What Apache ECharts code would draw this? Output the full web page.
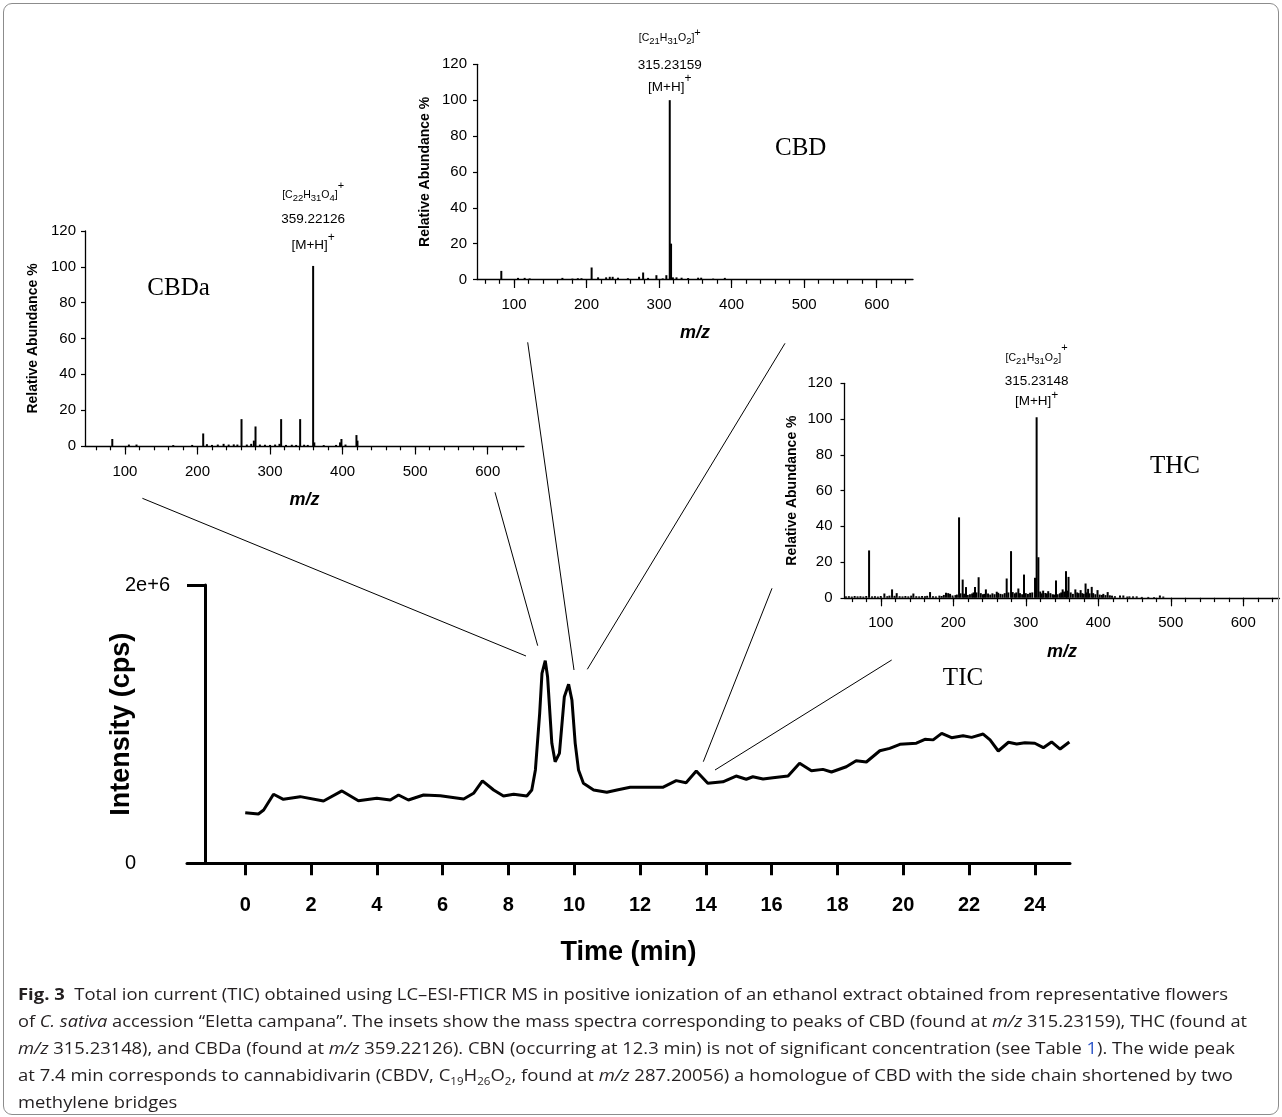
<!DOCTYPE html>
<html>
<head>
<meta charset="utf-8">
<script src="https://cdn.jsdelivr.net/npm/echarts@6/dist/echarts.min.js"></script>
<style>
    html, body {
        margin: 0;
        padding: 0;
        background: #fff;
    }
    #chart {
        position: absolute;
        left: 0;
        top: 0;
        width: 1282px;
        height: 1117px;
    }
    #frame {
        position: absolute;
        left: 3px;
        top: 3px;
        width: 1276px;
        height: 1112px;
        box-sizing: border-box;
        border: 1.5px solid #8c8c8c;
        border-radius: 9px;
        pointer-events: none;
    }
    #caption {
        position: absolute;
        left: 18px;
        top: 981px;
        font-family: "Open Sans";
        font-size: 16px;
        line-height: 27px;
        color: #231f20;
    }
    #caption .ln {
        display: block;
        white-space: nowrap;
        transform-origin: 0 0;
        width: max-content;
    }
    #caption sub {
        font-size: 10px;
        line-height: 0;
    }
    #caption .ref {
        color: #2f56c8;
    }
</style>
</head>
<body>
<div id="chart"></div>
<div id="frame"></div>
<div id="caption">
    <span class="ln" data-w="1210"><b>Fig. 3</b>&nbsp; Total ion current (TIC) obtained using LC–ESI-FTICR MS in positive ionization of an ethanol extract obtained from representative flowers</span>
    <span class="ln" data-w="1229">of <i>C. sativa</i> accession “Eletta campana”. The insets show the mass spectra corresponding to peaks of CBD (found at <i>m/z</i> 315.23159), THC (found at</span>
    <span class="ln" data-w="1217"><i>m/z</i> 315.23148), and CBDa (found at <i>m/z</i> 359.22126). CBN (occurring at 12.3 min) is not of significant concentration (see Table <span class="ref">1</span>). The wide peak</span>
    <span class="ln" data-w="1215">at 7.4 min corresponds to cannabidivarin (CBDV, C<sub>19</sub>H<sub>26</sub>O<sub>2</sub>, found at <i>m/z</i> 287.20056) a homologue of CBD with the side chain shortened by two</span>
    <span class="ln">methylene bridges</span>
</div>
<script>
// ---------------- 数据 ----------------
// TIC：保留时间 (min) 与强度 (cps)
const ticTime = [0, 0.4, 0.56, 0.86, 1.16, 1.67, 2.38, 2.94, 3.44, 4.0, 4.41, 4.66, 4.96, 5.42, 5.93, 6.64, 6.94, 7.21, 7.55, 7.85,
    8.16, 8.56, 8.71, 8.82, 8.95, 9.02, 9.12, 9.19, 9.32, 9.42, 9.55, 9.70, 9.83, 9.93, 10.03, 10.13, 10.28, 10.59, 10.99, 11.3,
    11.7, 12.69, 13.1, 13.4, 13.71, 14.06, 14.52, 14.92, 15.23, 15.43, 15.74, 16.04, 16.5, 16.85, 17.21, 17.56, 17.82, 18.27, 18.57, 18.88,
    19.29, 19.59, 19.9, 20.4, 20.66, 20.91, 21.17, 21.47, 21.82, 22.08, 22.43, 22.64, 22.89, 23.2, 23.45, 23.7, 24.0, 24.26, 24.51, 24.77, 25.05];
const ticIntensity = [364000, 354000, 383000, 496000, 460000, 479000, 448000, 520000, 450000, 467000, 455000, 491000, 455000, 491000, 486000, 462000, 503000, 592000, 527000, 484000,
    496000, 484000, 527000, 671000, 1078000, 1365000, 1456000, 1341000, 862000, 730000, 790000, 1197000, 1286000, 1174000, 862000, 671000, 575000, 527000, 510000, 527000,
    546000, 546000, 594000, 579000, 663000, 575000, 586000, 627000, 604000, 622000, 606000, 615000, 627000, 719000, 665000, 675000, 656000, 694000, 737000, 728000,
    809000, 826000, 855000, 863000, 891000, 887000, 934000, 903000, 917000, 905000, 929000, 887000, 807000, 870000, 858000, 867000, 863000, 831000, 872000, 821000, 872000];

// 质谱：m/z 与相对丰度 %
const cbdaMz = [82.6, 105.5, 116, 166.6, 192.7, 207.9, 213, 220, 228, 236, 243, 250, 255, 260.7, 268, 274, 277.7, 280, 286, 293,
    300, 307, 313, 315.3, 322, 330, 336, 341.5, 347, 352, 359.4, 361, 374, 391, 396.5, 398.4, 404, 419.1, 420.5];
const cbdaAbund = [3.9, 0.8, 0.8, 0.5, 0.6, 7.0, 1.0, 0.6, 0.8, 1.2, 0.8, 0.9, 0.8, 15, 0.8, 1.2, 3.0, 10.9, 0.8, 0.7,
    0.6, 0.8, 1.2, 15, 0.6, 0.7, 0.6, 15, 0.7, 0.6, 100.5, 2.0, 0.5, 0.6, 2.0, 3.9, 0.8, 6.1, 3.0];

const cbdMz = [82.5, 105.5, 114.7, 121.6, 166.7, 180.5, 188, 193, 207, 215.9, 227, 232, 236, 243.4, 257, 272.4, 278, 284.8, 296.3, 305,
    310, 314.7, 316.5, 319, 324, 331, 340, 353.8, 358, 374.5, 390.6];
const cbdAbund = [4.8, 0.9, 0.9, 0.6, 0.9, 0.5, 0.7, 0.7, 6.7, 1.2, 1.2, 1.5, 1.5, 1.0, 0.7, 1.5, 3.9, 0.9, 2.4, 0.6,
    2.4, 100, 20, 1.2, 1.2, 1.0, 0.8, 1.0, 1.0, 0.5, 0.9];

const thcMz = [52, 56, 60, 64, 68, 72, 76, 80, 83.9, 88, 92, 96, 100, 105, 109, 112, 115.6, 119, 122, 126,
    130, 134, 138, 142, 145, 149, 153, 157, 161, 164, 168, 172, 176, 180.9, 184, 187, 190, 193, 195.6, 199,
    203, 205, 208, 210, 213, 215, 217.6, 220, 223, 226, 228, 230, 232, 235, 238, 241, 243, 245, 248, 251,
    254, 257, 260, 262, 265, 268, 271, 273.7, 276, 279.7, 282, 285, 287, 289.8, 292, 295, 297.6, 300, 303, 306,
    309, 312.8, 315, 317.4, 320, 322, 324, 327, 329, 331, 334, 337, 339, 341.7, 344, 347, 349, 350.9, 353, 355.5,
    357, 359, 362, 365, 368.4, 371, 373, 375.7, 378, 380, 382.5, 384, 386, 388, 391, 393, 396, 399, 402, 405,
    407, 410, 413, 416, 419, 423, 430, 434.6, 440, 443, 448, 453, 460, 469, 477, 485, 489.7];
const thcAbund = [0.8, 0.9, 0.7, 1.0, 0.8, 0.9, 0.7, 1.0, 26.5, 0.8, 0.9, 0.7, 1.0, 2.4, 0.9, 1.2, 4.7, 1.1, 2.6, 0.9,
    0.8, 1.0, 0.8, 1.2, 2.4, 0.9, 0.8, 1.0, 0.9, 1.1, 3.2, 0.9, 0.8, 1.2, 1.0, 1.6, 2.8, 2.6, 2.2, 1.3,
    1.5, 1.8, 45, 2.5, 10.2, 2.3, 6.0, 1.6, 2.0, 2.4, 3.0, 6.0, 3.0, 11.5, 2.6, 2.0, 2.2, 4.7, 2.4, 1.8,
    2.5, 2.0, 3.4, 2.8, 2.2, 2.0, 2.6, 10.8, 3.0, 26.1, 3.2, 2.5, 3.0, 5.2, 2.6, 2.0, 13, 2.6, 2.2, 2.8,
    3.0, 11.2, 101, 22.7, 3.5, 2.5, 4.0, 2.7, 2.4, 3.7, 2.6, 2.0, 1.8, 9.7, 2.0, 2.5, 3.0, 4.7, 3.5, 14.9,
    4.0, 11.7, 3.0, 2.2, 4.7, 3.0, 2.6, 4.3, 2.6, 2.2, 8.0, 3.0, 5.0, 2.5, 6.1, 2.6, 2.0, 4.3, 1.8, 1.6,
    2.2, 1.5, 3.2, 1.4, 1.2, 0.9, 1.3, 1.3, 0.7, 0.8, 0.8, 0.8, 0.5, 0.5, 0.4, 1.3, 0.7];

// 刻度
const timeTicks = [0, 2, 4, 6, 8, 10, 12, 14, 16, 18, 20, 22, 24];
const mzLabels = [100, 200, 300, 400, 500, 600];
const mzMinor = [60, 80, 100, 120, 140, 160, 180, 200, 220, 240, 260, 280, 300, 320, 340, 360, 380, 400,
    420, 440, 460, 480, 500, 520, 540, 560, 580, 600, 620, 640];

const FONT = '"Liberation Sans", Arial, sans-serif';
const SERIF = '"Liberation Serif", "Times New Roman", serif';

// 峰顶的注释：分子式 / 精确质量 / [M+H]+
// h1 h2 h3：三行的行高；sup1 sup3：上标抬高的像素；dist：离峰顶的距离
function peakLabel(sub, mass, h1, h2, h3, sup1, sup3, dist) {
    const subH = h1 - 6;
    const supH1 = h1 - 2 * sup1;
    const supH3 = h3 - 2 * sup3;
    return {
        show: true,
        position: 'top',
        distance: dist,
        color: '#000',
        fontFamily: FONT,
        formatter: `{a|[C}{b|${sub[0]}}{a|H}{b|${sub[1]}}{a|O}{b|${sub[2]}}{a|]}{c|+}\n{m|${mass}}\n{d|[M+H]}{e|+}`,
        rich: {
            a: { fontFamily: FONT, fontSize: 10.5, lineHeight: h1, verticalAlign: 'middle' },
            b: { fontFamily: FONT, fontSize: 9.5, height: subH, lineHeight: subH, verticalAlign: 'bottom' },
            c: { fontFamily: FONT, fontSize: 11, height: supH1, lineHeight: supH1, verticalAlign: 'top' },
            m: { fontFamily: FONT, fontSize: 13.5, lineHeight: h2 },
            d: { fontFamily: FONT, fontSize: 13.5, lineHeight: h3, verticalAlign: 'middle' },
            e: { fontFamily: FONT, fontSize: 12, height: supH3, lineHeight: supH3, verticalAlign: 'top' }
        }
    };
}

function spectrumData(mz, abund, peakMz, label) {
    return mz.map((m, i) => {
        if (m === peakMz) {
            return { value: [m, abund[i]], label: label };
        }
        return [m, abund[i]];
    });
}

// 插图 x 轴：一条带标签和长刻度，一条只画短刻度
function insetAxes(gridIndex, min) {
    const major = {
        type: 'value',
        gridIndex: gridIndex,
        position: 'bottom',
        min: min,
        max: 650,
        splitLine: { show: false },
        axisLine: { lineStyle: { color: '#000', width: 1.3 } },
        axisTick: { customValues: mzLabels, length: 8.5, lineStyle: { color: '#000', width: 1.2 } },
        axisLabel: { customValues: mzLabels, color: '#000', fontFamily: FONT, fontSize: 15, margin: 18 },
        name: 'm/z',
        nameLocation: 'middle',
        nameGap: 45,
        nameTextStyle: { color: '#000', fontFamily: FONT, fontSize: 18, fontWeight: 'bold', fontStyle: 'italic' }
    };
    const minor = {
        type: 'value',
        gridIndex: gridIndex,
        position: 'bottom',
        min: min,
        max: 650,
        splitLine: { show: false },
        axisLine: { show: false },
        axisTick: { customValues: mzMinor, length: 4.3, lineStyle: { color: '#000', width: 1.2 } },
        axisLabel: { show: false }
    };
    return [major, minor];
}

function insetYAxis(gridIndex, labelMargin) {
    return {
        type: 'value',
        gridIndex: gridIndex,
        min: 0,
        max: 120,
        interval: 20,
        splitLine: { show: false },
        axisLine: { show: true, onZero: false, lineStyle: { color: '#000', width: 1.3 } },
        axisTick: { show: true, length: 4, lineStyle: { color: '#000', width: 1.2 } },
        axisLabel: { color: '#000', fontFamily: FONT, fontSize: 15, margin: labelMargin },
        name: 'Relative Abundance %',
        nameLocation: 'middle',
        nameGap: 45,
        nameTextStyle: { color: '#000', fontFamily: FONT, fontSize: 14, fontWeight: 'bold' }
    };
}

const chart = echarts.init(document.getElementById('chart'), null, { renderer: 'canvas' });

const option = {
    animation: false,
    backgroundColor: '#fff',
    grid: [
        // TIC 主图
        { left: 187, top: 585, width: 883, height: 278.3 },
        // CBDa
        { left: 85, top: 231, width: 439, height: 215 },
        // CBD
        { left: 477, top: 64.3, width: 436, height: 215.2 },
        // THC
        { left: 844.5, top: 383.3, width: 435, height: 214.5 }
    ],
    xAxis: [
        {
            type: 'value',
            gridIndex: 0,
            position: 'bottom',
            min: -1.77,
            max: 25.07,
            splitLine: { show: false },
            axisLine: { lineStyle: { color: '#000', width: 3 } },
            axisTick: { customValues: timeTicks, length: 12, lineStyle: { color: '#000', width: 3 } },
            axisLabel: { customValues: timeTicks, color: '#000', fontFamily: FONT, fontSize: 20, fontWeight: 'bold', margin: 32 },
            name: 'Time (min)',
            nameLocation: 'middle',
            nameGap: 76,
            nameTextStyle: { color: '#000', fontFamily: FONT, fontSize: 27, fontWeight: 'bold' }
        },
        ...insetAxes(1, 45),
        ...insetAxes(2, 49),
        ...insetAxes(3, 50)
    ],
    yAxis: [
        {
            type: 'value',
            gridIndex: 0,
            min: 0,
            max: 2000000,
            interval: 2000000,
            // 轴线画在 x=205，刻度向左伸到 x 轴的起点
            offset: -18,
            splitLine: { show: false },
            axisLine: { show: true, onZero: false, lineStyle: { color: '#000', width: 3 } },
            axisTick: { show: true, length: 18, lineStyle: { color: '#000', width: 3 } },
            axisLabel: {
                color: '#000', fontFamily: FONT, fontSize: 20, align: 'left', margin: 80,
                formatter: v => (v === 0 ? '0' : '2e+6')
            },
            name: 'Intensity (cps)',
            nameLocation: 'middle',
            nameGap: 70,
            nameMoveOverlap: false,
            nameTextStyle: { color: '#000', fontFamily: FONT, fontSize: 27, fontWeight: 'bold' }
        },
        insetYAxis(1, 9),
        insetYAxis(2, 10),
        insetYAxis(3, 12)
    ],
    series: [
        {
            name: 'TIC',
            type: 'line',
            xAxisIndex: 0,
            yAxisIndex: 0,
            showSymbol: false,
            lineStyle: { color: '#000', width: 3 },
            data: ticTime.map((t, i) => [t, ticIntensity[i]])
        },
        {
            name: 'CBDa',
            type: 'bar',
            xAxisIndex: 1,
            yAxisIndex: 1,
            barWidth: 2,
            itemStyle: { color: '#000' },
            data: spectrumData(cbdaMz, cbdaAbund, 359.4, peakLabel(['22', '31', '4'], '359.22126', 22, 26, 27.4, 9, 8.4, 6.6))
        },
        {
            name: 'CBD',
            type: 'bar',
            xAxisIndex: 3,
            yAxisIndex: 2,
            barWidth: 2,
            itemStyle: { color: '#000' },
            data: spectrumData(cbdMz, cbdAbund, 314.7, peakLabel(['21', '31', '2'], '315.23159', 32, 22, 22, 5.3, 8.7, 2.2))
        },
        {
            name: 'THC',
            type: 'bar',
            xAxisIndex: 5,
            yAxisIndex: 3,
            barWidth: 2,
            itemStyle: { color: '#000' },
            data: spectrumData(thcMz, thcAbund, 315, peakLabel(['21', '31', '2'], '315.23148', 27.4, 20, 20, 9.7, 5.7, 5.5))
        }
    ],
    graphic: [
        // 化合物名称
        { type: 'text', x: 178.6, y: 288, style: { text: 'CBDa', font: '25px ' + SERIF, fill: '#000', align: 'center', verticalAlign: 'middle' } },
        { type: 'text', x: 800.7, y: 148.3, style: { text: 'CBD', font: '25px ' + SERIF, fill: '#000', align: 'center', verticalAlign: 'middle' } },
        { type: 'text', x: 1175, y: 466.7, style: { text: 'THC', font: '25px ' + SERIF, fill: '#000', align: 'center', verticalAlign: 'middle' } },
        { type: 'text', x: 963, y: 678.3, style: { text: 'TIC', font: '25px ' + SERIF, fill: '#000', align: 'center', verticalAlign: 'middle' } },
        // 插图与峰之间的连线
        { type: 'line', shape: { x1: 142.4, y1: 498.3, x2: 526, y2: 656 }, style: { stroke: '#000', lineWidth: 1 } },
        { type: 'line', shape: { x1: 495, y1: 492.3, x2: 537.7, y2: 645.7 }, style: { stroke: '#000', lineWidth: 1 } },
        { type: 'line', shape: { x1: 527.7, y1: 342.3, x2: 574, y2: 670 }, style: { stroke: '#000', lineWidth: 1 } },
        { type: 'line', shape: { x1: 785, y1: 343.3, x2: 587.3, y2: 669.3 }, style: { stroke: '#000', lineWidth: 1 } },
        { type: 'line', shape: { x1: 772, y1: 588.3, x2: 703.3, y2: 761.7 }, style: { stroke: '#000', lineWidth: 1 } },
        { type: 'line', shape: { x1: 891.7, y1: 660, x2: 715, y2: 770 }, style: { stroke: '#000', lineWidth: 1 } }
    ]
};

chart.setOption(option);

// 图注每一行缩放到原图的宽度；最后一行用前几行的平均比例
let scaleSum = 0;
let scaleCount = 0;
document.querySelectorAll('#caption .ln').forEach(el => {
    const w = el.getBoundingClientRect().width;
    let s;
    if (el.dataset.w) {
        s = Number(el.dataset.w) / w;
        scaleSum += s;
        scaleCount += 1;
    } else {
        s = scaleSum / scaleCount;
    }
    el.style.transform = `scaleX(${s})`;
});
</script>
</body>
</html>
